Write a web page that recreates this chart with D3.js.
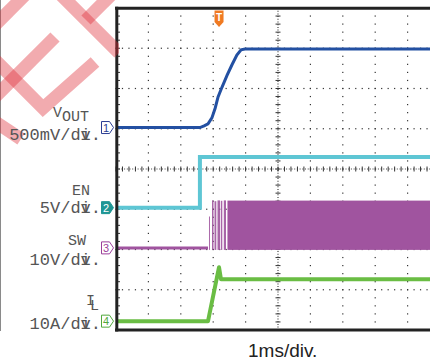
<!DOCTYPE html>
<html><head><meta charset="utf-8">
<script src="https://cdn.jsdelivr.net/npm/d3@7"></script>
<style>html,body{margin:0;padding:0;background:#fff;}svg{display:block;}</style>
</head><body>
<svg id="c" width="430" height="360"></svg>
<script>
// ---------- data ----------
const timeDomain = [-5, 5];            // ms, 1 ms/div
const divDomain = [-4, 4];             // vertical divisions
const channelIds = ["1", "2", "3", "4"];
const channelScale = [0.5, 5, 10, 10]; // per div: V, V, V, A
const channelOffset = [1.03, -0.96, -1.96, -3.78]; // ground level, div
const channelColor = ["#2350a2", "#5ec6d4", "#a0549f", "#6abd44"];
const markerStroke = ["#2b3d93", "#1f9695", "#9b3f9b", "#52a83c"];
const markerFilled = [false, true, false, false];
const triggerTime = -1.82;

const voutTime  = [-5, -2.41, -2.28, -2.16, -2.04, -1.94, -1.85, -1.73, -1.57, -1.42, -1.27, -1.14, -1.02, 5];
const voutValue = [0, 0, 0.02, 0.045, 0.12, 0.24, 0.38, 0.50, 0.65, 0.78, 0.90, 0.965, 0.975, 0.975];

const enTime  = [-5, -2.41, -2.41, 5];
const enValue = [0, 0, 6.3, 6.3];

const swBaseTime  = [-5, -2.16];
const swBaseValue = [0, 0];
const swPulseStart = [-2.13, -2.037, -1.96, -1.867, -1.765, -1.673];
const swPulseEnd   = [-2.10, -1.991, -1.904, -1.79, -1.719, -1.605];
const swPulsePeak  = [7.8, 11.8, 11.6, 11.8, 11.7, 11.8];
const swBandStart = -1.56, swBandEnd = 5, swBandLow = -0.5, swBandHigh = 11.75;

const ilTime  = [-5, -2.16, -1.82, -1.76, 5];
const ilValue = [0, 0, 13.4, 10.4, 10.4];

const labelName = ["VOUT", "EN", "SW", "IL"];
const labelSubStart = [1, 99, 99, 1];   // index where the subscript begins
const labelScale = ["500mV/div.", "5V/div.", "10V/div.", "10A/div."];
const timeLabel = "1ms/div.";

// ---------- drawing ----------
const svg = d3.select("#c");
const xs = d3.scaleLinear().domain(timeDomain).range([116, 440]);
const ys = d3.scaleLinear().domain(divDomain).range([330, 8]);
const chY = (ch, v) => ys(channelOffset[ch] + v / channelScale[ch]);

// left gray line
svg.append("line").attr("x1", 0.5).attr("x2", 0.5).attr("y1", 0).attr("y2", 331)
  .attr("stroke", "#8a8a8a").attr("stroke-width", 1);

// grid
const grid = svg.append("g").attr("fill", "#333");
const minorT = d3.range(-5, 5.001, 0.2);
const minorD = d3.range(-4, 4.001, 0.2);
d3.range(-4, 5, 1).filter(t => t !== 0).forEach(t => {
  grid.selectAll(null).data(minorD).enter().append("rect")
    .attr("x", xs(t) - 0.6).attr("y", d => ys(d) - 0.6).attr("width", 1.2).attr("height", 1.2);
});
d3.range(-3, 4, 1).filter(d => d !== 0).forEach(dv => {
  grid.selectAll(null).data(minorT).enter().append("rect")
    .attr("x", d => xs(d) - 0.6).attr("y", ys(dv) - 0.6).attr("width", 1.2).attr("height", 1.2);
});
// center lines
svg.append("line").attr("x1", xs(0)).attr("x2", xs(0)).attr("y1", ys(4)).attr("y2", ys(-4))
  .attr("stroke", "#444").attr("stroke-width", 1.2).attr("stroke-dasharray", "1,1.7");
svg.append("line").attr("x1", xs(-5)).attr("x2", xs(5)).attr("y1", ys(0)).attr("y2", ys(0))
  .attr("stroke", "#444").attr("stroke-width", 1.2).attr("stroke-dasharray", "1,1.7");
svg.append("g").selectAll("line").data(minorD).enter().append("line")
  .attr("x1", xs(0) - 2.5).attr("x2", xs(0) + 2.5).attr("y1", d => ys(d)).attr("y2", d => ys(d))
  .attr("stroke", "#333").attr("stroke-width", 1);
svg.append("g").selectAll("line").data(minorT).enter().append("line")
  .attr("y1", ys(0) - 2.5).attr("y2", ys(0) + 2.5).attr("x1", d => xs(d)).attr("x2", d => xs(d))
  .attr("stroke", "#333").attr("stroke-width", 1);
// left border ticks
svg.append("g").selectAll("line").data(minorD).enter().append("line")
  .attr("x1", xs(-5)).attr("x2", xs(-5) + 4).attr("y1", d => ys(d)).attr("y2", d => ys(d))
  .attr("stroke", "#333").attr("stroke-width", 1);

// traces
const line = ch => d3.line().x(d => xs(d[0])).y(d => chY(ch, d[1]));
// SW
svg.append("path").datum(d3.zip(swBaseTime, swBaseValue)).attr("d", line(2))
  .attr("fill", "none").attr("stroke", channelColor[2]).attr("stroke-width", 3);
svg.append("g").selectAll("rect").data(d3.range(swPulseStart.length)).enter().append("rect")
  .attr("x", i => xs(swPulseStart[i])).attr("width", i => xs(swPulseEnd[i]) - xs(swPulseStart[i]))
  .attr("y", i => chY(2, swPulsePeak[i])).attr("height", i => chY(2, swBandLow) - chY(2, swPulsePeak[i]))
  .attr("fill", channelColor[2]).attr("opacity", 0.9);
svg.append("rect").attr("x", xs(swBandStart)).attr("width", xs(swBandEnd) - xs(swBandStart))
  .attr("y", chY(2, swBandHigh)).attr("height", chY(2, swBandLow) - chY(2, swBandHigh))
  .attr("fill", channelColor[2]);
// EN
svg.append("path").datum(d3.zip(enTime, enValue)).attr("d", line(1))
  .attr("fill", "none").attr("stroke", channelColor[1]).attr("stroke-width", 4);
// VOUT
svg.append("path").datum(d3.zip(voutTime, voutValue)).attr("d", line(0))
  .attr("fill", "none").attr("stroke", channelColor[0]).attr("stroke-width", 3);
// IL
svg.append("path").datum(d3.zip(ilTime, ilValue)).attr("d", line(3))
  .attr("fill", "none").attr("stroke", channelColor[3]).attr("stroke-width", 4).attr("stroke-linejoin", "round");

// borders
svg.append("line").attr("x1", 116.8).attr("x2", 116.8).attr("y1", 6.8).attr("y2", 331.5)
  .attr("stroke", "#222").attr("stroke-width", 3);
svg.append("line").attr("x1", 115).attr("x2", 430).attr("y1", 8.3).attr("y2", 8.3)
  .attr("stroke", "#222").attr("stroke-width", 3);
svg.append("line").attr("x1", 115).attr("x2", 430).attr("y1", 330).attr("y2", 330)
  .attr("stroke", "#222").attr("stroke-width", 3);

// watermark
svg.append("clipPath").attr("id", "wm").append("rect").attr("x", 0).attr("y", 0).attr("width", 119).attr("height", 360);
const wm = svg.append("g").attr("clip-path", "url(#wm)")
  .attr("stroke", "rgb(222,45,55)").attr("stroke-opacity", 0.4).attr("fill", "none")
  .attr("stroke-width", 13).attr("stroke-linejoin", "miter").attr("stroke-linecap", "butt");
const wmPaths = [
  [[26, -6], [-6, 26]],
  [[55, 37], [-5, 97]],
  [[112, -6], [86, 20]],
  [[60, -6], [119, 53]],
  [[-6, 59], [43, 108], [95, 62]],
  [[-6, 121], [21, 139]]
];
wm.selectAll("path").data(wmPaths).enter().append("path").attr("d", d3.line());

// channel markers
channelIds.forEach((id, i) => {
  const yc = ys(channelOffset[i]);
  const tip = 113.5;
  const g = svg.append("g");
  g.append("path").attr("d", d3.line()([[tip - 12, yc - 6], [tip - 4, yc - 6], [tip, yc], [tip - 4, yc + 6], [tip - 12, yc + 6]]) + "Z")
    .attr("fill", markerFilled[i] ? markerStroke[i] : "#fff").attr("stroke", markerStroke[i]).attr("stroke-width", 1);
  g.append("text").attr("x", tip - 7.5).attr("y", yc + 4).attr("text-anchor", "middle")
    .attr("font-family", "Liberation Sans, Arial, sans-serif").attr("font-size", 11)
    .attr("fill", markerFilled[i] ? "#fff" : markerStroke[i]).text(id);
});

// trigger marker
const tx = xs(triggerTime);
svg.append("path").attr("d", d3.line()([[tx - 4.5, 10.5], [tx + 4.5, 10.5], [tx + 4.5, 22], [tx, 27], [tx - 4.5, 22]]) + "Z")
  .attr("fill", "#f07a22");
svg.append("text").attr("x", tx).attr("y", 20.5).attr("text-anchor", "middle")
  .attr("font-family", "Liberation Sans, Arial, sans-serif").attr("font-size", 10).attr("font-weight", "bold")
  .attr("fill", "#fff").text("T");

// labels
const mono = "Liberation Mono, DejaVu Sans Mono, monospace";
const labFill = "#555";
const fs = 17;
const nameX = [53, 72, 68, 86];
const nameY = [116.5, 195, 245, 305];
const subDx = [0, 0, 0, -5];
const subDy = [4.5, 0, 0, 5];
const scaleY = [140, 213, 265, 329];
labelName.forEach((m, i) => {
  const dx = m.split("").map((c, k) => (k === labelSubStart[i] ? subDx[i] : 0)).join(" ");
  const dy = m.split("").map((c, k) => (k === labelSubStart[i] ? subDy[i] : 0)).join(" ");
  svg.append("text").attr("x", nameX[i]).attr("y", nameY[i]).attr("font-family", mono)
    .attr("font-size", 15).attr("fill", labFill).attr("dx", dx).attr("dy", dy).text(m);
  const s = labelScale[i];
  // the "v" is drawn over the "i", as in the original figure
  const dx2 = s.split("").map((c, k) => (k === s.length - 2 ? -0.6 * fs : 0)).join(" ");
  svg.append("text").attr("x", 101).attr("y", scaleY[i]).attr("text-anchor", "end")
    .attr("font-family", mono).attr("font-size", fs).attr("fill", labFill)
    .attr("dx", dx2).text(s);
});

svg.append("text").attr("x", 248).attr("y", 357).attr("font-family", "Liberation Sans, Arial, sans-serif")
  .attr("font-size", 19).attr("fill", "#222").text(timeLabel);
</script>
</body></html>
